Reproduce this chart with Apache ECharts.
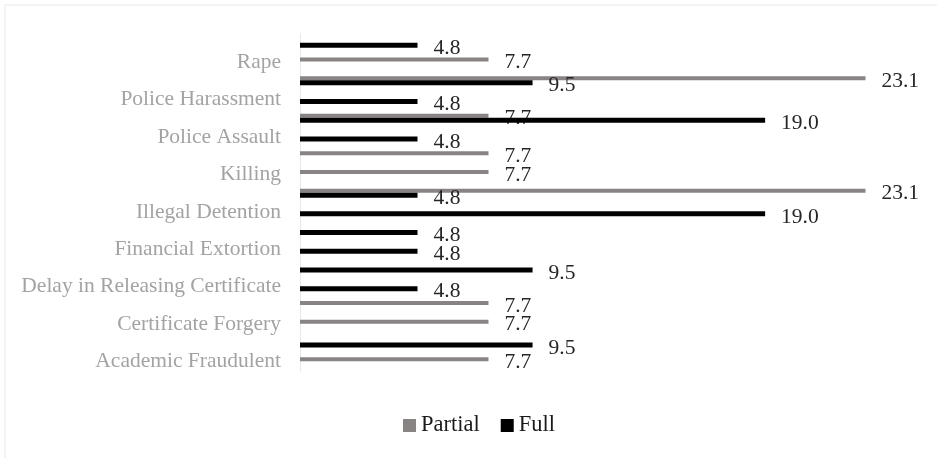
<!DOCTYPE html>
<html>
<head>
<meta charset="utf-8">
<script src="https://cdn.jsdelivr.net/npm/echarts@6/dist/echarts.min.js"></script>
<style>
  html, body { margin: 0; padding: 0; background: #ffffff; }
  #chart { width: 937px; height: 458px; }
</style>
</head>
<body>
<div id="chart"></div>
<script>
// Category names, bottom to top; each name labels every second row.
const categories = [
  'Academic Fraudulent',
  'Certificate Forgery',
  'Delay in Releasing Certificate',
  'Financial Extortion',
  'Illegal Detention',
  'Killing',
  'Police Assault',
  'Police Harassment',
  'Rape'
];

// Row values, bottom to top (18 rows); null = no bar in that row.
const partialValues = [7.7, null, 7.7, 7.7, null, null, null, null, null, 23.1, 7.7, 7.7, null, 7.7, null, 23.1, 7.7, null];
const fullValues    = [null, 9.5, null, null, 4.8, 9.5, 4.8, 4.8, 19.0, 4.8, null, null, 4.8, 19.0, 4.8, 9.5, null, 4.8];

const seriesNames = ['Partial', 'Full'];

const rowIds = partialValues.map((_, i) => String(i));
const FONT = 'Liberation Serif';

const valueLabel = {
  show: true,
  position: 'right',
  distance: 16,
  offset: [0, 3],
  fontFamily: FONT,
  fontSize: 21.5,
  color: '#262626',
  formatter: p => Number(p.value).toFixed(1)
};

const chart = echarts.init(document.getElementById('chart'), null, { renderer: 'canvas' });

chart.setOption({
  backgroundColor: '#ffffff',
  animation: false,
  graphic: [{
    type: 'rect',
    shape: { x: 5, y: 5, width: 960, height: 480 },
    style: { fill: 'none', stroke: '#f3f3f3', lineWidth: 2 },
    silent: true,
    z: -10
  }],
  grid: { left: 300, top: 34, height: 337, width: 612 },
  legend: {
    left: 398,
    top: 409,
    icon: 'rect',
    itemWidth: 13,
    itemHeight: 13,
    itemGap: 21,
    textStyle: { fontFamily: FONT, fontSize: 22.5, color: '#1a1a1a' },
    data: seriesNames
  },
  xAxis: {
    type: 'value',
    min: 0,
    max: 25,
    show: false
  },
  yAxis: {
    type: 'category',
    data: rowIds,
    axisLine: { show: true, lineStyle: { color: '#e8e8e8', width: 1 } },
    axisTick: { show: false },
    splitLine: { show: false },
    axisLabel: {
      interval: 0,
      margin: 19,
      fontFamily: FONT,
      fontSize: 21.5,
      color: '#a3a3a3',
      formatter: v => {
        const i = Number(v);
        return i % 2 === 0 ? categories[i / 2] : '';
      }
    }
  },
  series: [
    {
      name: seriesNames[0],
      type: 'bar',
      data: partialValues,
      barWidth: 4,
      barGap: '0%',
      itemStyle: { color: '#898484' },
      label: valueLabel,
      z: 2
    },
    {
      name: seriesNames[1],
      type: 'bar',
      data: fullValues,
      barWidth: 5,
      itemStyle: { color: '#000000' },
      label: valueLabel,
      z: 3
    }
  ]
});
</script>
</body>
</html>
